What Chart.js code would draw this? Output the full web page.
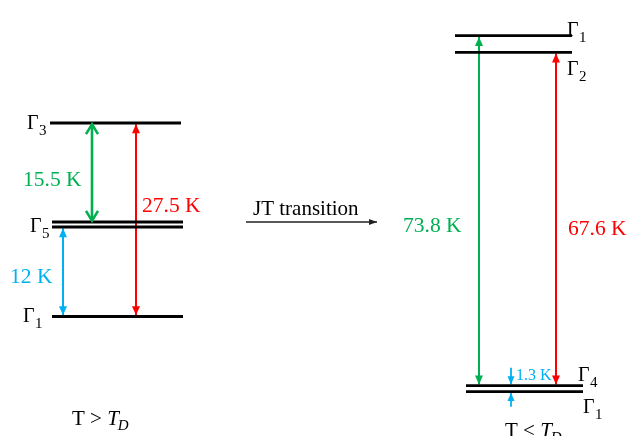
<!DOCTYPE html>
<html>
<head>
<meta charset="utf-8">
<script src="https://cdn.jsdelivr.net/npm/chart.js@4/dist/chart.umd.min.js"></script>
<style>
  html, body { margin: 0; padding: 0; background: #fff; }
  canvas { display: block; }
</style>
</head>
<body>
<canvas id="scheme" width="628" height="436"></canvas>
<script>
// Crystal-field levels above T_D (left) and below T_D after the JT transition (right).
// Heights are schematic positions on the diagram's vertical axis (not to scale).
const highTStates = ['Γ3', 'Γ5', 'Γ5', 'Γ1'];
const highTLevels = [313, 214, 209, 119.5];
const lowTStates  = ['Γ1', 'Γ2', 'Γ4', 'Γ1'];
const lowTLevels  = [400.3, 383.7, 50.3, 44.3];

// Energy gaps: label, upper level index, lower level index, which scheme
const gapLabels = ['15.5 K', '27.5 K', '12 K', '73.8 K', '67.6 K', '1.3 K'];
const gapUpper  = [0, 0, 2, 0, 1, 2];
const gapLower  = [1, 3, 3, 2, 2, 3];
const gapScheme = ['high', 'high', 'high', 'low', 'low', 'low'];

const headerLabels = ['T > ', 'T < '];
const transitionLabel = 'JT transition';

// ---- layout & style ----
const FONT = '"Liberation Serif", "Times New Roman", serif';
const GREEN = '#00B050', RED = '#FF0000', BLUE = '#00B0F0', BLACK = '#000000';

const highSpan = [[50, 181], [52, 183], [52, 183], [52, 183]];
const lowSpan  = [[455, 572], [455, 572], [466, 583], [466, 583]];
const gapX      = [92, 136, 63, 479, 556, 511];
const gapColor  = [GREEN, RED, BLUE, GREEN, RED, BLUE];
const gapWidth  = [2.6, 2, 2, 2, 2, 1.8];
const gapLabelAt = [[23, 250], [142, 224], [10, 153], [403, 204], [568, 201], [516, 56]];
const gapLabelSize = [21.5, 21.5, 21.5, 21.5, 21.5, 16];

// state labels: [x of Γ, baseline height]; the Γ5 doublet is labelled once
const highLabelAt = [[27, 307], [30, 204], null, [23, 114]];
const lowLabelAt  = [[567, 400], [567, 361], [578, 55], [583, 23]];

const levels = { high: highTLevels, low: lowTLevels };

const datasets = [];
highTLevels.forEach((h, i) => datasets.push({
  kind: 'level', data: [{ x: highSpan[i][0], y: h }, { x: highSpan[i][1], y: h }],
  borderColor: BLACK, borderWidth: 2.8
}));
lowTLevels.forEach((h, i) => datasets.push({
  kind: 'level', data: [{ x: lowSpan[i][0], y: h }, { x: lowSpan[i][1], y: h }],
  borderColor: BLACK, borderWidth: 2.8
}));

gapLabels.forEach((lab, i) => {
  const lv = levels[gapScheme[i]];
  const top = lv[gapUpper[i]], bot = lv[gapLower[i]];
  if (top - bot > 10) {
    // double-headed arrow spanning the gap
    datasets.push({
      kind: 'arrow', heads: 'both', open: i === 0,
      headLen: i === 0 ? 10 : (gapScheme[i] === 'high' ? 9 : 9),
      headHalf: i === 0 ? 6 : 4,
      data: [{ x: gapX[i], y: top - 1.2 }, { x: gapX[i], y: bot + 1.2 }],
      borderColor: gapColor[i], borderWidth: gapWidth[i]
    });
  } else {
    // narrow gap: two arrows pointing in from outside
    datasets.push({
      kind: 'arrow', heads: 'end', headLen: 8, headHalf: 3.5,
      data: [{ x: gapX[i], y: top + 18 }, { x: gapX[i], y: top + 1.4 }],
      borderColor: gapColor[i], borderWidth: gapWidth[i]
    });
    datasets.push({
      kind: 'arrow', heads: 'end', headLen: 8, headHalf: 3.5,
      data: [{ x: gapX[i], y: bot - 15 }, { x: gapX[i], y: bot - 1.4 }],
      borderColor: gapColor[i], borderWidth: gapWidth[i]
    });
  }
});

// horizontal arrow for the transition
datasets.push({
  kind: 'arrow', heads: 'end', headLen: 8, headHalf: 3,
  data: [{ x: 246, y: 214 }, { x: 377, y: 214 }],
  borderColor: '#222', borderWidth: 1.3
});

datasets.forEach(d => {
  d.showLine = true; d.pointRadius = 0; d.pointHoverRadius = 0;
  d.fill = false; d.clip = false; d.borderCapStyle = 'butt';
});

function drawHead(ctx, from, to, len, half, color, open, lw) {
  const dx = to.x - from.x, dy = to.y - from.y;
  const L = Math.hypot(dx, dy) || 1;
  const ux = dx / L, uy = dy / L;
  const bx = to.x - ux * len, by = to.y - uy * len;
  const nx = -uy, ny = ux;
  ctx.beginPath();
  ctx.moveTo(bx + nx * half, by + ny * half);
  ctx.lineTo(to.x, to.y);
  ctx.lineTo(bx - nx * half, by - ny * half);
  if (open) {
    ctx.strokeStyle = color; ctx.lineWidth = lw; ctx.lineJoin = 'miter';
    ctx.stroke();
  } else {
    ctx.closePath(); ctx.fillStyle = color; ctx.fill();
  }
}

function drawState(ctx, text, x, y) {
  ctx.font = '20px ' + FONT;
  ctx.fillText(text[0], x, y);
  const w = ctx.measureText(text[0]).width;
  ctx.font = '15px ' + FONT;
  ctx.fillText(text.slice(1), x + w + 0.5, y + 6);
}

function drawTemp(ctx, head, x, y) {
  ctx.font = '21px ' + FONT;
  ctx.fillText(head, x, y);
  let w = ctx.measureText(head).width;
  ctx.font = 'italic 21px ' + FONT;
  ctx.fillText('T', x + w, y);
  w += ctx.measureText('T').width;
  ctx.font = 'italic 15px ' + FONT;
  ctx.fillText('D', x + w - 1, y + 5);
}

const schemePlugin = {
  id: 'schemeDecor',
  afterDatasetsDraw(chart) {
    const { ctx, scales: { x, y } } = chart;
    const px = v => x.getPixelForValue(v), py = v => y.getPixelForValue(v);
    ctx.save();
    chart.data.datasets.forEach((d, i) => {
      if (d.kind !== 'arrow') return;
      const pts = chart.getDatasetMeta(i).data;
      const a = { x: pts[0].x, y: pts[0].y }, b = { x: pts[1].x, y: pts[1].y };
      drawHead(ctx, a, b, d.headLen, d.headHalf, d.borderColor, d.open, d.borderWidth);
      if (d.heads === 'both') drawHead(ctx, b, a, d.headLen, d.headHalf, d.borderColor, d.open, d.borderWidth);
    });

    ctx.textBaseline = 'alphabetic';
    ctx.textAlign = 'left';
    ctx.fillStyle = BLACK;
    highTStates.forEach((s, i) => { if (highLabelAt[i]) drawState(ctx, s, px(highLabelAt[i][0]), py(highLabelAt[i][1])); });
    lowTStates.forEach((s, i) => drawState(ctx, s, px(lowLabelAt[i][0]), py(lowLabelAt[i][1])));

    gapLabels.forEach((lab, i) => {
      ctx.fillStyle = gapColor[i];
      ctx.font = gapLabelSize[i] + 'px ' + FONT;
      ctx.fillText(lab, px(gapLabelAt[i][0]), py(gapLabelAt[i][1]));
    });

    ctx.fillStyle = BLACK;
    ctx.font = '21px ' + FONT;
    ctx.fillText(transitionLabel, px(253), py(221));
    drawTemp(ctx, headerLabels[0], px(72), py(11));
    drawTemp(ctx, headerLabels[1], px(505), py(-1));
    ctx.restore();
  }
};

new Chart(document.getElementById('scheme'), {
  type: 'scatter',
  data: { datasets },
  options: {
    responsive: false,
    animation: false,
    layout: { padding: 0 },
    plugins: { legend: { display: false }, tooltip: { enabled: false } },
    events: [],
    scales: {
      x: { type: 'linear', min: 0, max: 628, display: false },
      y: { type: 'linear', min: 0, max: 436, display: false }
    }
  },
  plugins: [schemePlugin]
});
</script>
</body>
</html>
